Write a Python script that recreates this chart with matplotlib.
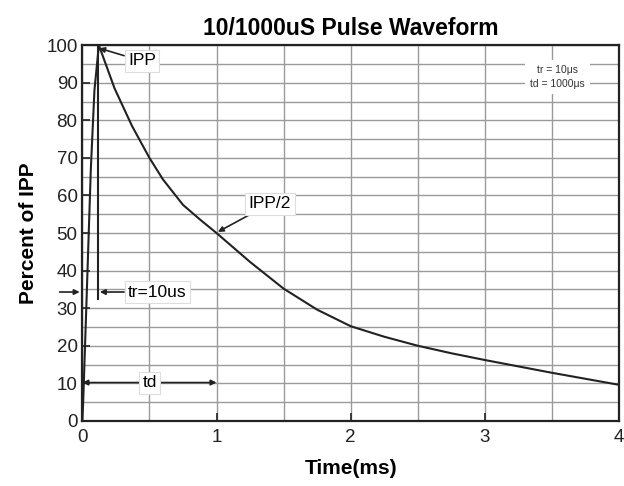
import matplotlib.pyplot as plt
import numpy as np

plt.rcParams['font.family'] = ['Liberation Sans', 'DejaVu Sans']

# waveform (time in ms, percent of IPP)
time_ms = [0.0, 0.006, 0.031, 0.063, 0.09, 0.123, 0.24, 0.37, 0.5, 0.6, 0.75, 0.88,
           1.0, 1.25, 1.5, 1.75, 2.0, 2.25, 2.5, 2.75, 3.0, 3.25, 3.5, 3.75, 4.0]
pct_ipp = [0, 5, 32, 67, 88, 100, 88.5, 78.5, 70, 64.3, 57.5, 53.5,
           50, 42.3, 35.2, 29.6, 25.2, 22.4, 20, 18, 16.2, 14.5, 12.8, 11.2, 9.6]

x_ticks = [0, 1, 2, 3, 4]
y_ticks = [0, 10, 20, 30, 40, 50, 60, 70, 80, 90, 100]

fig = plt.figure(figsize=(6.24, 4.86), dpi=100)
ax = fig.add_axes([0.132, 0.134, 0.860, 0.773])

ax.plot(time_ms, pct_ipp, color='#222222', lw=1.5, zorder=3)

ax.set_xlim(0, 4)
ax.set_ylim(0, 100)
ax.set_xticks(x_ticks)
ax.set_yticks(y_ticks)
ax.set_xticks(np.arange(0, 4.01, 0.5), minor=True)
ax.set_yticks(np.arange(0, 100.1, 5), minor=True)
ax.grid(which='both', color='#9a9a9a', lw=1.0)
ax.tick_params(which='major', direction='in', length=6, width=1.2, labelsize=13.5, colors='#222222')
ax.tick_params(axis='x', pad=6)
ax.tick_params(which='minor', length=0)
for s in ax.spines.values():
    s.set_linewidth(1.6)
    s.set_color('#222222')

ax.set_title('10/1000uS Pulse Waveform', fontsize=16.5, fontweight='bold', pad=7)
ax.set_xlabel('Time(ms)', fontsize=15, fontweight='bold', labelpad=9)
ax.set_ylabel('Percent of IPP', fontsize=15, fontweight='bold', labelpad=6)

box = dict(boxstyle='square,pad=0.2', fc='white', ec='#dddddd', lw=0.8)
arrow = dict(arrowstyle='-|>', color='#222222', lw=1.2, mutation_scale=8, shrinkA=0, shrinkB=0)

# rise-time marker
ax.plot([0.12, 0.12], [32.5, 100], color='#222222', lw=1.5, zorder=3)
ax.annotate('tr=10us', xy=(0.13, 34.3), xytext=(0.34, 34.3), fontsize=12.5,
            va='center', ha='left', bbox=box, arrowprops=arrow, zorder=4)
ax.annotate('', xy=(-0.02, 34.3), xytext=(-0.17, 34.3), annotation_clip=False,
            arrowprops=arrow)

# td span
ax.annotate('', xy=(1.0, 10.2), xytext=(0.0, 10.2),
            arrowprops=dict(arrowstyle='<|-|>', color='#222222', lw=1.2,
                            mutation_scale=8, shrinkA=0, shrinkB=0), zorder=4)
ax.text(0.5, 10.2, 'td', fontsize=12.5, ha='center', va='center', bbox=box, zorder=5)

ax.annotate('IPP', xy=(0.125, 99.2), xytext=(0.34, 95.8), fontsize=12.5,
            va='center', ha='left', bbox=box, arrowprops=arrow, zorder=4)
ax.annotate('IPP/2', xy=(1.01, 50.3), xytext=(1.24, 57.8), fontsize=12.5,
            va='center', ha='left', bbox=box, arrowprops=arrow, zorder=4)

ax.text(3.54, 91.6, 'tr = 10μs\ntd = 1000μs', fontsize=7.5, ha='center', va='center',
        linespacing=1.5, color='#333333',
        bbox=dict(boxstyle='square,pad=0.5', fc='white', ec='none'), zorder=4)

fig.savefig('out.png', dpi=100)
